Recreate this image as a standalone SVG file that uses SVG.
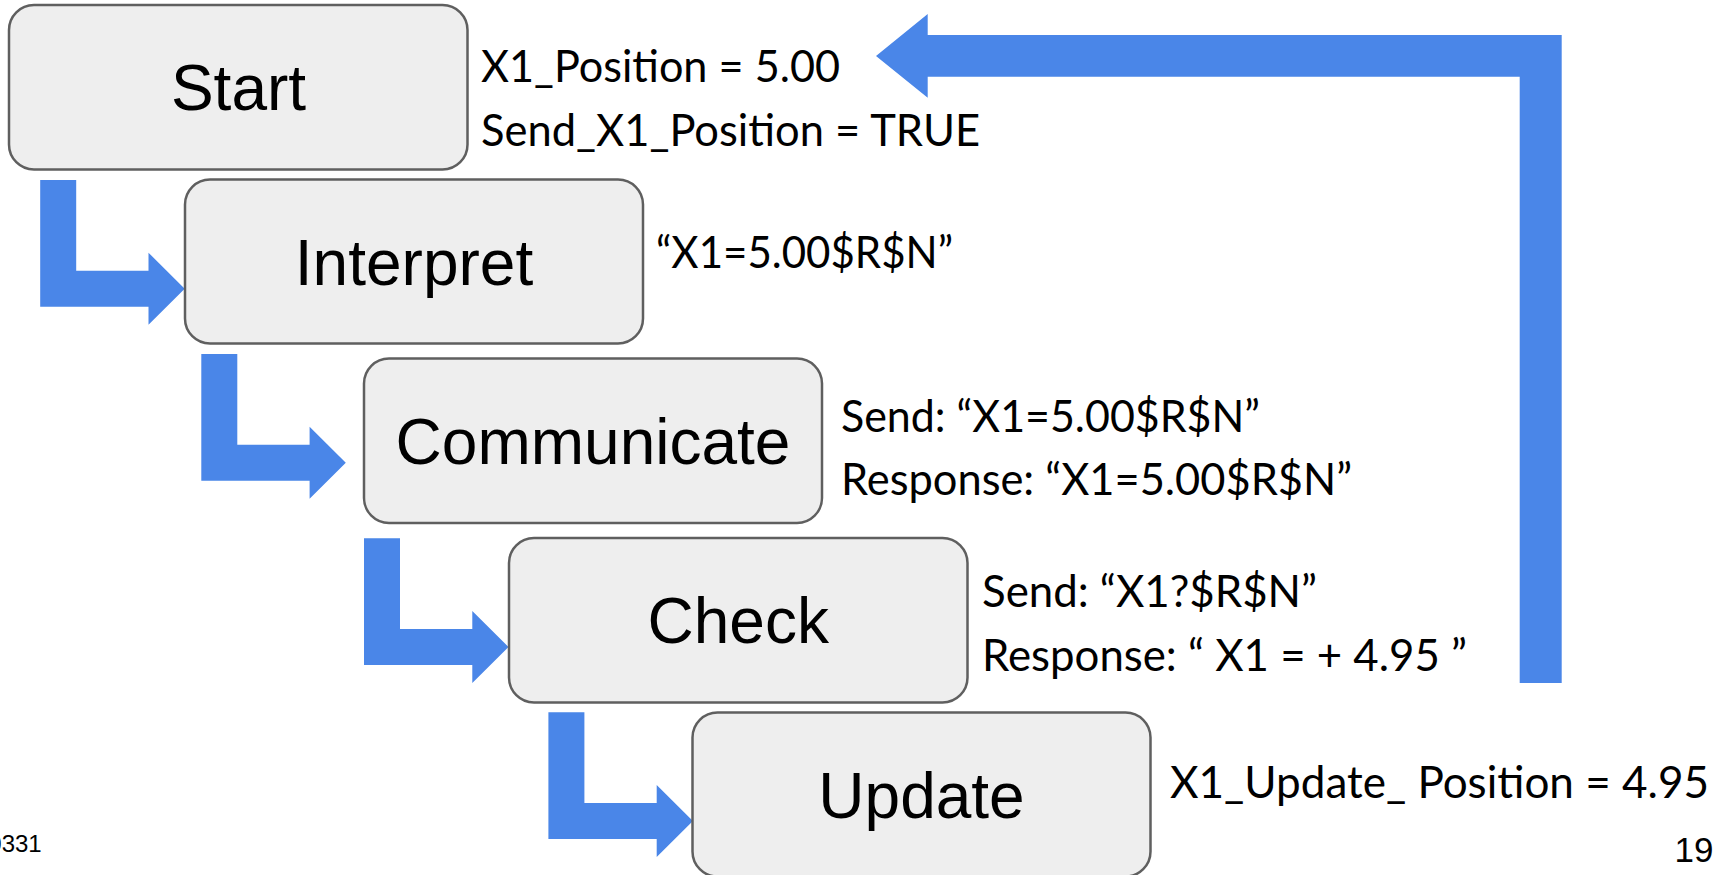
<svg xmlns="http://www.w3.org/2000/svg" xmlns:xlink="http://www.w3.org/1999/xlink" width="1725" height="875" viewBox="0 0 1725 875">
  <style>
    .box { fill: #eeeeee; stroke: #5f5f5f; stroke-width: 2.5; }
    .label { font-family: "Liberation Sans", Arial, sans-serif; font-size: 64px; fill: #000; text-anchor: middle; }
    .note { font-family: Lato, "Open Sans", sans-serif; font-size: 45px; fill: #000; }
    .foot { font-family: "Liberation Sans", Arial, sans-serif; fill: #000; }
    .flow { fill: #4a86e8; }
  </style>
  <defs>
    <!-- elbow arrow: down, then right into the next step -->
    <path id="elbow" d="M0,0 H36 V90.7 H108.3 V72.7 L144.5,108.7 L108.3,144.7 V126.7 H0 Z"/>
  </defs>

  <rect width="1725" height="875" fill="#ffffff"/>

  <g id="connectors" class="flow">
    <use xlink:href="#elbow" href="#elbow" transform="translate(40.2,180)"/>
    <use xlink:href="#elbow" href="#elbow" transform="translate(201.3,354)"/>
    <use xlink:href="#elbow" href="#elbow" transform="translate(364,538.3)"/>
    <use xlink:href="#elbow" href="#elbow" transform="translate(548.4,712.3)"/>
    <!-- loop back from the right side to the start values -->
    <polygon points="1519.7,683 1561.7,683 1561.7,35 927.7,35 927.7,14 876,56 927.7,97.7 927.7,76.7 1519.7,76.7"/>
  </g>

  <g id="start">
    <rect class="box" x="9" y="5" width="458.5" height="164.5" rx="25"/>
    <text class="label" x="238.5" y="110">Start</text>
    <text class="note" x="481" y="81.7" textLength="359" lengthAdjust="spacingAndGlyphs">X1_Position = 5.00</text>
    <text class="note" x="481" y="145.7" textLength="499" lengthAdjust="spacingAndGlyphs">Send_X1_Position = TRUE</text>
  </g>

  <g id="interpret">
    <rect class="box" x="185" y="179.5" width="458" height="164" rx="25"/>
    <text class="label" x="414" y="284.5">Interpret</text>
    <text class="note" x="656" y="268.3" textLength="297" lengthAdjust="spacingAndGlyphs">“X1=5.00$R$N”</text>
  </g>

  <g id="communicate">
    <rect class="box" x="364" y="358.5" width="458" height="164.5" rx="25"/>
    <text class="label" x="593" y="463.5">Communicate</text>
    <text class="note" x="841" y="431.7" textLength="419" lengthAdjust="spacingAndGlyphs">Send: “X1=5.00$R$N”</text>
    <text class="note" x="841" y="495" textLength="511" lengthAdjust="spacingAndGlyphs">Response: “X1=5.00$R$N”</text>
  </g>

  <g id="check">
    <rect class="box" x="509" y="538" width="458.5" height="164.5" rx="25"/>
    <text class="label" x="738.2" y="642.8">Check</text>
    <text class="note" x="982" y="607" textLength="335" lengthAdjust="spacingAndGlyphs">Send: “X1?$R$N”</text>
    <text class="note" x="982" y="671" textLength="485" lengthAdjust="spacingAndGlyphs">Response: “ X1 = + 4.95 ”</text>
  </g>

  <g id="update">
    <rect class="box" x="692.5" y="712.5" width="458" height="164" rx="25"/>
    <text class="label" x="921.5" y="817.5">Update</text>
    <text class="note" x="1170" y="798.3" textLength="539" lengthAdjust="spacingAndGlyphs">X1_Update_ Position = 4.95</text>
  </g>

  <g id="footer">
    <!-- slide footer: date runs off the left edge -->
    <text class="foot" x="41.7" y="851.7" font-size="24" text-anchor="end">0331</text>
    <text class="foot" x="1713.5" y="862" font-size="35" text-anchor="end">19</text>
  </g>
</svg>
